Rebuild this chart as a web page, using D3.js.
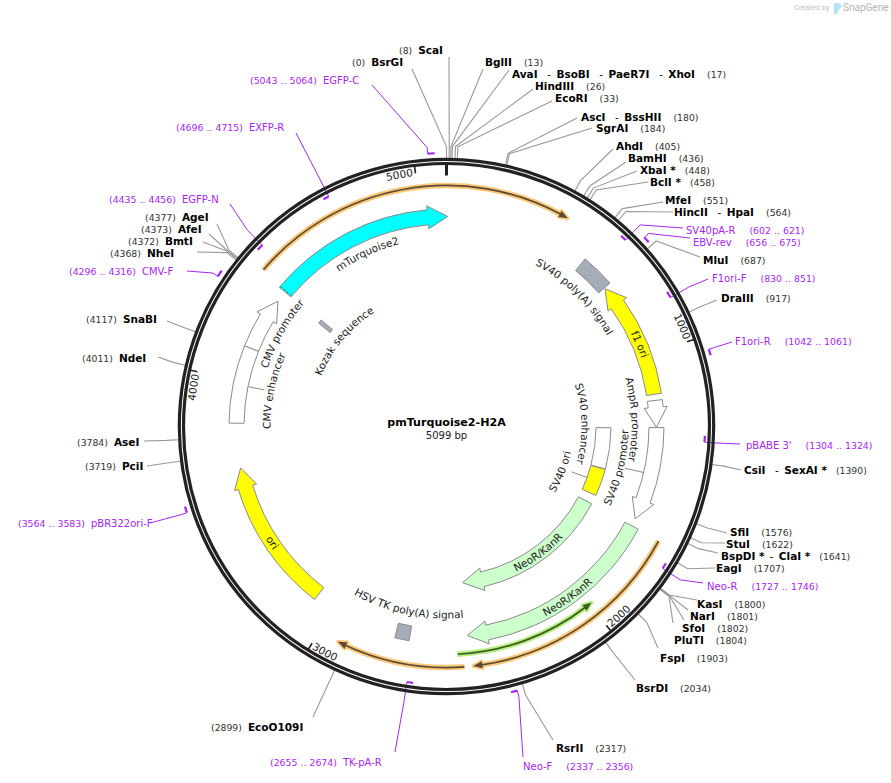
<!DOCTYPE html>
<html>
<head>
  <title>pmTurquoise2-H2A</title>
  <style>
    html, body { margin: 0; background: #fff; }
    svg { display: block; }
    text { font-family: "DejaVu Sans", sans-serif; }
  </style>
</head>
<body>
<div id="chart"></div>
<script src="https://cdnjs.cloudflare.com/ajax/libs/d3/7.9.0/d3.min.js"></script>
<script>
var plasmidName = "pmTurquoise2-H2A",
    plasmidLength = 5099;

// restriction sites, one row per label
var siteNames = ["BsrGI", "ScaI", "BglII", "AvaI - BsoBI - PaeR7I - XhoI", "HindIII", "EcoRI",
  "AscI - BssHII", "SgrAI", "AhdI", "BamHI", "XbaI *", "BclI *", "MfeI", "HincII - HpaI", "MluI",
  "DraIII", "CsiI - SexAI *", "SfiI", "StuI", "BspDI * - ClaI *", "EagI", "KasI", "NarI", "SfoI",
  "PluTI", "FspI", "BsrDI", "RsrII", "EcoO109I", "PciI", "AseI", "NdeI", "SnaBI", "NheI", "BmtI",
  "AfeI", "AgeI"];
var sitePositions = [0, 8, 13, 17, 26, 33, 180, 184, 405, 436, 448, 458, 551, 564, 687, 917, 1390,
  1576, 1622, 1641, 1707, 1800, 1801, 1802, 1804, 1903, 2034, 2317, 2899, 3719, 3784, 4011, 4117,
  4368, 4372, 4373, 4377];
// where the label rows sit on the page, and where their leader lines stop
var siteLabelX = [352, 399, 485, 512, 535, 555, 581, 596, 616, 628, 640, 650, 665, 674, 703, 721,
  744, 730, 726, 721, 716, 697, 690, 682, 674, 660, 636, 556, 211, 85, 77, 82, 86, 110, 128, 141, 145];
var siteLabelY = [62, 50, 62, 74, 86, 98, 117, 128, 146, 158, 170, 182, 200, 212, 260, 298,
  470, 532, 544, 556, 568, 604, 616, 628, 640, 658, 688, 748, 727, 466, 442, 358, 319, 253, 241, 229, 217];
var siteLeadX = [412, 449, 483, 509, 533, 552, 577, 592, 613, 626, 637, 648, 663, 673, 700, 717,
  741, 727, 725, 718, 715, 697, 688, 684, 673, 658, 635, 553, 313, 147, 144, 158, 167, 197, 203, 209, 217];
var siteLeadY = [69, 57, 69, 70, 89, 101, 118, 128, 149, 162, 171, 182, 202, 212, 257, 300,
  470, 533, 543, 553, 568, 600, 610, 620, 623, 648, 680, 740, 717, 466, 441, 357, 321, 252, 242, 234, 224];

// primers
var primerNames = ["EGFP-C", "EXFP-R", "EGFP-N", "CMV-F", "SV40pA-R", "EBV-rev", "F1ori-F", "F1ori-R",
  "pBABE 3'", "Neo-R", "Neo-F", "TK-pA-R", "pBR322ori-F"];
var primerStarts = [5043, 4696, 4435, 4296, 602, 656, 830, 1042, 1304, 1727, 2337, 2655, 3564];
var primerEnds = [5064, 4715, 4456, 4316, 621, 675, 851, 1061, 1324, 1746, 2356, 2674, 3583];
var primerOutside = [true, false, false, true, false, true, false, true, false, false, true, false, true];
var primerLabelX = [250, 176, 109, 69, 686, 693, 712, 735, 746, 707, 523, 270, 18];
var primerLabelY = [80, 127, 199, 271, 230, 242, 278, 341, 445, 586, 766, 762, 523];
var primerLeadX = [372, 296, 230, 187, 683, 690, 708, 732, 740, 703, 523, 395, 150];
var primerLeadY = [85, 133, 204, 271, 228, 238, 279, 342, 444, 583, 757, 752, 523];

// features: the arrow tip is at the end value
var featureNames = ["mTurquoise2", "SV40 poly(A) signal", "f1 ori", "AmpR promoter", "SV40 promoter",
  "SV40 enhancer", "SV40 ori", "NeoR/KanR", "NeoR/KanR", "HSV TK poly(A) signal", "ori",
  "CMV enhancer", "CMV promoter", "Kozak sequence"];
var featureStarts = [4388, 561, 1150, 1174, 1279, 1281, 1489, 1674, 1672, 2690, 3078, 3837, 4133, 4376];
var featureEnds = [5104, 690, 694, 1278, 1644, 1487, 1626, 2469, 2466, 2744, 3663, 4133, 4343, 4396];
var featureArrows = [true, false, true, true, true, false, false, true, true, false, true, false, true, false];
var featureTracks = ["outer", "outer", "outer", "outer", "outer", "inner", "inner", "outer", "inner",
  "outer", "outer", "outer", "outer", "inner"];
var featureKinds = ["cds", "polyA", "ori", "promoter", "promoter", "promoter", "ori", "resistance",
  "resistance", "polyA", "ori", "promoter", "promoter", "polyA"];
// where each feature name is written along the circle
var featureLabelBp = [4750, 632, 949, 1244, 1466, 1258, 1580, 2049, 2039, 2718, 3347, 3989, 4241, 4389];
var featureLabelRadius = [188.5, 184.5, 206.5, 185, 182, 135, 127, 214, 161, 192, 213, 176, 188, 135];
var featureLeaderBp = [1557, 1461, 3985];

// translated regions
var translationStarts = [4399, 1677, 2489, 2510];
var translationEnds = [5527, 2459, 2929, 1990];
var translationKinds = ["orange", "orange", "orange", "green"];

var tickValues = [1000, 2000, 3000, 4000, 5000];

// ------------------------------------------------------------------
var width = 891, height = 783,
    cx = 446.5, cy = 426.5,
    ringOuter = 267.2, ringInner = 263,
    trackRadius = {outer: 210, inner: 157},
    kindFill = {cds: "#00ffff", polyA: "#a6acb8", ori: "#ffff00", promoter: "#ffffff", resistance: "#ccffcc"},
    haloColor = {orange: "#fbc878", green: "#b6ef80"},
    coreColor = {orange: "#5a4a35", green: "#3f5a25"},
    purple = "#a526f0",
    grey = "#8a8a8a";

var angle = d3.scaleLinear().domain([0, plasmidLength]).range([0, 2 * Math.PI]);

var svg = d3.select("#chart").append("svg")
    .attr("width", width)
    .attr("height", height);

var defs = svg.append("defs");

function polar(bp, r) {
  var a = angle(bp);
  return [cx + r * Math.sin(a), cy - r * Math.cos(a)];
}

// d3.path wants 0 on the x axis, our 0 is at twelve o'clock
function arcTo(p, r, from, to) {
  p.arc(cx, cy, r, angle(from) - Math.PI / 2, angle(to) - Math.PI / 2, to < from);
}

function pxToBp(px, r) {
  return angle.invert(px / r);
}

function bandPath(start, end, r, w) {
  var p = d3.path(), a = polar(start, r + w / 2);
  p.moveTo(a[0], a[1]);
  arcTo(p, r + w / 2, start, end);
  arcTo(p, r - w / 2, end, start);
  p.closePath();
  return p.toString();
}

function arrowPath(start, end, r, w, headW, headLen) {
  var sign = end > start ? 1 : -1,
      neck = end - sign * pxToBp(headLen, r),
      p = d3.path(),
      a = polar(start, r + w / 2),
      b = polar(neck, r + headW / 2),
      c = polar(end, r),
      d = polar(neck, r - headW / 2),
      e = polar(neck, r - w / 2);
  p.moveTo(a[0], a[1]);
  arcTo(p, r + w / 2, start, neck);
  p.lineTo(b[0], b[1]);
  p.lineTo(c[0], c[1]);
  p.lineTo(d[0], d[1]);
  p.lineTo(e[0], e[1]);
  arcTo(p, r - w / 2, neck, start);
  p.closePath();
  return p.toString();
}

function neckOf(start, end, r, headLen) {
  return end - (end > start ? 1 : -1) * pxToBp(headLen, r);
}

function thinLinePath(start, end, r, headLen) {
  var neck = neckOf(start, end, r, headLen),
      p = d3.path(),
      a = polar(start, r);
  p.moveTo(a[0], a[1]);
  arcTo(p, r, start, neck);
  return p.toString();
}

function thinHeadPath(start, end, r, headW, headLen) {
  var neck = neckOf(start, end, r, headLen);
  return d3.line()([polar(neck, r + headW / 2), polar(end, r), polar(neck, r - headW / 2)]) + "Z";
}

// text that follows the circle, flipped on the bottom half
var pathCount = 0;
function curvedText(g, str, bp, r, opts) {
  var deg = ((angle(bp) * 180 / Math.PI) % 360 + 360) % 360,
      flipped = deg > 90 && deg < 270,
      span = pxToBp(170, r) > plasmidLength / 4 ? plasmidLength / 4 : pxToBp(170, r),
      id = "tp" + (pathCount++),
      p = d3.path(),
      from, to, anchor = "middle", offset = "50%";
  if (opts && opts.edge) {
    // tick labels stop just short of the tick
    if (flipped) { from = bp; to = bp - span; anchor = "start"; offset = "0%"; }
    else { from = bp - span; to = bp; anchor = "end"; offset = "100%"; }
  } else {
    from = flipped ? bp + span : bp - span;
    to = flipped ? bp - span : bp + span;
  }
  var s = polar(from, r);
  p.moveTo(s[0], s[1]);
  arcTo(p, r, from, to);
  defs.append("path").attr("id", id).attr("d", p.toString());
  g.append("text")
      .attr("font-size", 10.5)
      .attr("fill", "#222")
      .append("textPath")
      .attr("href", "#" + id)
      .attr("startOffset", offset)
      .attr("text-anchor", anchor)
      .text(str);
}

// ---- leader lines go under the ring
var leads = svg.append("g").attr("fill", "none");

sitePositions.forEach(function (bp, i) {
  var a = polar(bp, ringOuter + 1), b = polar(bp, 280);
  leads.append("path")
      .attr("d", d3.line()([a, b, [siteLeadX[i], siteLeadY[i]]]))
      .attr("stroke", "#999")
      .attr("stroke-width", 1.1);
});

primerNames.forEach(function (name, i) {
  // the stem sits on the primer's 5' end
  var stem = primerOutside[i] ? primerStarts[i] : primerEnds[i],
      r0 = primerOutside[i] ? 273.5 : 258.5,
      a = polar(stem, r0), b = polar(stem, 279.5);
  leads.append("path")
      .attr("d", d3.line()([a, b, [primerLeadX[i], primerLeadY[i]]]))
      .attr("stroke", purple)
      .attr("stroke-width", 1);
  leads.append("path")
      .attr("d", bandPath(primerStarts[i], primerEnds[i], r0, 2.2))
      .attr("fill", purple);
});

// ---- backbone
svg.selectAll("circle.ring")
    .data([ringOuter, ringInner])
    .join("circle")
    .attr("class", "ring")
    .attr("cx", cx)
    .attr("cy", cy)
    .attr("r", function (d) { return d; })
    .attr("fill", "none")
    .attr("stroke", "#222")
    .attr("stroke-width", 3.2);

var ticks = svg.append("g");

var zeroA = polar(0, 263), zeroB = polar(0, 251);
ticks.append("line")
    .attr("x1", zeroA[0]).attr("y1", zeroA[1])
    .attr("x2", zeroB[0]).attr("y2", zeroB[1])
    .attr("stroke", "#222")
    .attr("stroke-width", 3);

tickValues.forEach(function (v) {
  var a = polar(v, 263), b = polar(v, 255);
  ticks.append("line")
      .attr("x1", a[0]).attr("y1", a[1])
      .attr("x2", b[0]).attr("y2", b[1])
      .attr("stroke", "#222")
      .attr("stroke-width", 1.6);
  var deg = angle(v) * 180 / Math.PI,
      flipped = deg > 90 && deg < 270;
  curvedText(ticks, String(v), v - pxToBp(2.5, 255), flipped ? 260 : 252.5, {edge: true});
});

// ---- translated regions
var thin = svg.append("g").attr("fill", "none");

translationStarts.forEach(function (start, i) {
  var kind = translationKinds[i],
      end = translationEnds[i],
      r = kind === "green" ? 228 : 241,
      line = thinLinePath(start, end, r, 7),
      head = thinHeadPath(start, end, r, 7, 9);
  thin.append("path")
      .attr("d", line)
      .attr("stroke", haloColor[kind])
      .attr("stroke-width", 5.5);
  thin.append("path")
      .attr("d", head)
      .attr("fill", haloColor[kind])
      .attr("stroke", haloColor[kind])
      .attr("stroke-width", 3.5)
      .attr("stroke-linejoin", "round");
  thin.append("path")
      .attr("d", line)
      .attr("stroke", coreColor[kind])
      .attr("stroke-width", 1.7);
  thin.append("path")
      .attr("d", head)
      .attr("fill", coreColor[kind]);
});

// ---- features
var features = svg.append("g");

featureNames.forEach(function (name, i) {
  var r = trackRadius[featureTracks[i]],
      d = featureArrows[i]
        ? arrowPath(featureStarts[i], featureEnds[i], r, 15, 23, 20)
        : bandPath(featureStarts[i], featureEnds[i], r, 15);
  features.append("path")
      .attr("d", d)
      .attr("fill", kindFill[featureKinds[i]])
      .attr("stroke", grey)
      .attr("stroke-width", 1);
});

// dashed start of the coding region
var tailA = polar(featureStarts[0] + 5, 217), tailB = polar(featureStarts[0] + 5, 203);
features.append("line")
    .attr("x1", tailA[0]).attr("y1", tailA[1])
    .attr("x2", tailB[0]).attr("y2", tailB[1])
    .attr("stroke", "#555")
    .attr("stroke-dasharray", "2 2");

// feature labels
var labels = svg.append("g");

featureNames.forEach(function (name, i) {
  curvedText(labels, name, featureLabelBp[i], featureLabelRadius[i]);
});

// short strokes between a name and its feature
featureLeaderBp.forEach(function (bp, i) {
  var r = [[133, 150], [183, 203], [186, 202]][i],
      a = polar(bp, r[0]), b = polar(bp, r[1]);
  labels.append("line")
      .attr("x1", a[0]).attr("y1", a[1])
      .attr("x2", b[0]).attr("y2", b[1])
      .attr("stroke", grey);
});

// ---- site labels
function onLeft(bp) {
  return bp <= 8 || bp > plasmidLength / 2;
}

function endsWithStar(s) {
  return s.charAt(s.length - 1) === "*";
}

function addNames(text, names) {
  var parts = names.split(" - ");
  parts.forEach(function (n, i) {
    if (i > 0) {
      // a star already leaves some room
      text.append("tspan")
          .attr("dx", endsWithStar(parts[i - 1]) ? 5 : 9.5)
          .attr("font-weight", "normal")
          .text("-");
    }
    text.append("tspan")
        .attr("dx", i > 0 ? 5.5 : 0)
        .attr("font-weight", "bold")
        .text(n);
  });
}

var siteLabels = svg.append("g")
    .attr("font-size", 10.5)
    .attr("fill", "#000");

siteNames.forEach(function (name, i) {
  var text = siteLabels.append("text")
      .attr("x", siteLabelX[i])
      .attr("y", siteLabelY[i] + 3.5),
      pos = "(" + sitePositions[i] + ")";
  if (onLeft(sitePositions[i])) {
    text.append("tspan").attr("font-size", 9.3).attr("fill", "#333").text(pos);
    text.append("tspan").attr("dx", 6).attr("font-weight", "bold").text(name);
  } else {
    addNames(text, name);
    text.append("tspan")
        .attr("dx", endsWithStar(name) ? 9 : 12)
        .attr("font-size", 9.3)
        .attr("fill", "#333")
        .text(pos);
  }
});

var primerLabels = svg.append("g")
    .attr("font-size", 10)
    .attr("fill", purple);

primerNames.forEach(function (name, i) {
  var text = primerLabels.append("text")
      .attr("x", primerLabelX[i])
      .attr("y", primerLabelY[i] + 3.5),
      range = "(" + primerStarts[i] + " .. " + primerEnds[i] + ")";
  if (onLeft(primerStarts[i])) {
    text.append("tspan").attr("font-size", 9.4).text(range);
    text.append("tspan").attr("dx", 6).text(name);
  } else {
    text.append("tspan").text(name);
    text.append("tspan").attr("dx", 14).attr("font-size", 9.4).text(range);
  }
});

// ---- centre title
svg.append("text")
    .attr("x", cx)
    .attr("y", 426)
    .attr("text-anchor", "middle")
    .attr("font-size", 11.1)
    .attr("font-weight", "bold")
    .text(plasmidName);

svg.append("text")
    .attr("x", cx)
    .attr("y", 439)
    .attr("text-anchor", "middle")
    .attr("font-size", 10)
    .attr("fill", "#222")
    .text(plasmidLength + " bp");

// ---- watermark
var mark = svg.append("g");
mark.append("text")
    .attr("x", 794).attr("y", 10)
    .attr("font-size", 7.5)
    .attr("fill", "#c4c4c4")
    .style("font-family", "Roboto, sans-serif")
    .text("Created by");
mark.append("path")
    .attr("d", "M834 3h4a3 3 0 0 1 1 6l-2 5h-3z")
    .attr("fill", "#b5e2f5");
mark.append("text")
    .attr("x", 843).attr("y", 11)
    .attr("font-size", 10)
    .attr("fill", "#b4b4b4")
    .style("font-family", "Roboto, sans-serif")
    .text("SnapGene");
</script>
</body>
</html>
